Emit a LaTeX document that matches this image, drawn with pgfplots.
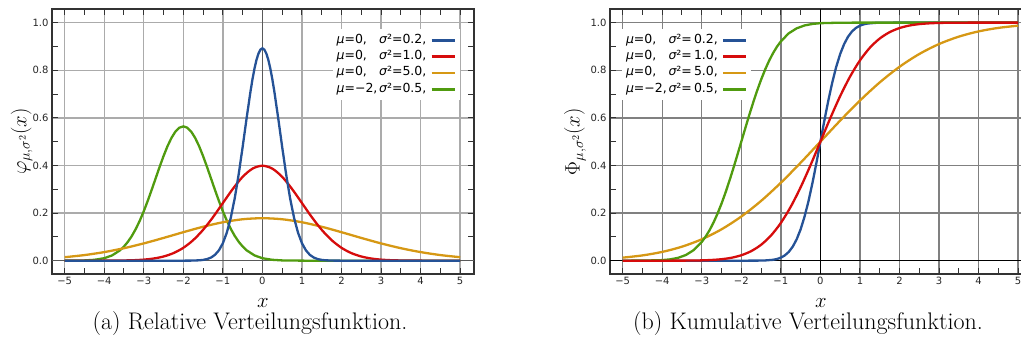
\documentclass[border=0pt]{standalone}
\usepackage{fontspec}
\setsansfont{DejaVu Sans}
\usepackage{pgfplots}
\pgfplotsset{compat=1.18}
\definecolor{cblue}{RGB}{37,82,150}
\definecolor{cred}{RGB}{214,12,12}
\definecolor{corange}{RGB}{214,152,20}
\definecolor{cgreen}{RGB}{80,155,15}
\pgfplotsset{
  common/.style={
    scale only axis, width=422pt, height=264.7pt,
    xmin=-5.32, xmax=5.35, ymin=-0.056, ymax=1.056,
    xtick={-5,-4,-3,-2,-1,0,1,2,3,4,5},
    xticklabels={−5,−4,−3,−2,−1,0,1,2,3,4,5},
    ytick={0,0.2,0.4,0.6,0.8,1},
    yticklabels={0.0,0.2,0.4,0.6,0.8,1.0},
    minor x tick num=1, minor y tick num=1,
    tick align=inside, major tick length=6pt, minor tick length=6pt,
    grid=major,
    axis line style={black!80,line width=1.8pt},
    tick style={black!80,line width=1pt},
    ticklabel style={font=\sffamily\fontsize{10}{12}\selectfont, text=black!85},
    xticklabel style={yshift=0pt},
    label style={font=\fontsize{20}{24}\selectfont},
    xlabel={$x$},
    xlabel style={at={(axis description cs:0.5,-0.108)},anchor=center,inner sep=0pt,font=\fontsize{22}{24}\selectfont},
    legend plot pos=right, legend cell align=left,
    legend style={draw=none, fill=white, font=\sffamily\fontsize{12.5}{14}\selectfont,
      row sep=4.3pt, inner xsep=4pt, inner ysep=5pt, column sep=4pt,
      nodes={inner sep=0pt, text height=9pt, text depth=3pt}},
    legend image code/.code={\draw[#1] (0pt,0pt) -- (23pt,0pt);},
    every axis plot/.append style={line width=2.3pt},
  }
}
\begin{document}
\begin{tikzpicture}
\useasboundingbox (0,0) rectangle (1021pt,-350pt);
\clip (0,0) rectangle (1021pt,-350pt);
% ---------------- left panel -----------------
\begin{axis}[common, at={(52pt,-274pt)}, anchor=south west,
  grid style={black!33,line width=1.4pt},
  ylabel={$\varphi_{\mu,\sigma^2}(x)$},
  ylabel style={at={(axis description cs:-0.072,0.5)},anchor=center},
  legend style={at={(axis description cs:0.967,0.925)},anchor=north east}]
\addlegendimage{cblue,line width=2.5pt}
\addlegendentry{\makebox[3.4em][l]{{\itshape μ}=0,}{\itshape σ}²=0.2,}
\addlegendimage{cred,line width=2.5pt}
\addlegendentry{\makebox[3.4em][l]{{\itshape μ}=0,}{\itshape σ}²=1.0,}
\addlegendimage{corange,line width=2.5pt}
\addlegendentry{\makebox[3.4em][l]{{\itshape μ}=0,}{\itshape σ}²=5.0,}
\addlegendimage{cgreen,line width=2.5pt}
\addlegendentry{\makebox[3.4em][l]{{\itshape μ}=−2,}{\itshape σ}²=0.5,}
\addplot[forget plot, black!65, line width=1.4pt] coordinates {(0,-0.056) (0,1.056)};
\addplot[forget plot, black!65, line width=1.4pt] coordinates {(-5.32,0) (5.35,0)};
% green pdf
\addplot[forget plot, cgreen] coordinates {
(-5,0.0001) (-4.5,0.0011) (-4.25,0.0036) (-4,0.0103) (-3.8,0.0221) (-3.6,0.0436) (-3.5,0.0595) (-3.4,0.0795) (-3.3,0.1041) (-3.2,0.1337) (-3.1,0.1682) (-3,0.2076) (-2.9,0.2510) (-2.8,0.2975) (-2.7,0.3456) (-2.6,0.3936) (-2.5,0.4394) (-2.4,0.4808) (-2.3,0.5156) (-2.2,0.5421) (-2.1,0.5586) (-2,0.5642) (-1.9,0.5586) (-1.8,0.5421) (-1.7,0.5156) (-1.6,0.4808) (-1.5,0.4394) (-1.4,0.3936) (-1.3,0.3456) (-1.2,0.2975) (-1.1,0.2510) (-1,0.2076) (-0.9,0.1682) (-0.8,0.1337) (-0.7,0.1041) (-0.6,0.0795) (-0.5,0.0595) (-0.4,0.0436) (-0.2,0.0221) (0,0.0103) (0.25,0.0036) (0.5,0.0011) (1,0.0001) (1.5,0) (5,0)};
% orange pdf
\addplot[forget plot, corange, smooth] coordinates {
(-5,0.0146) (-4.5,0.0235) (-4,0.0360) (-3.5,0.0524) (-3,0.0725) (-2.5,0.0955) (-2,0.1196) (-1.5,0.1425) (-1,0.1614) (-0.5,0.1740) (0,0.1784) (0.5,0.1740) (1,0.1614) (1.5,0.1425) (2,0.1196) (2.5,0.0955) (3,0.0725) (3.5,0.0524) (4,0.0360) (4.5,0.0235) (5,0.0146)};
% red pdf
\addplot[forget plot, cred, smooth] coordinates {
(-5,0) (-4.5,0.00002) (-4,0.0001) (-3.75,0.0004) (-3.5,0.0009) (-3.25,0.0020) (-3,0.0044) (-2.75,0.0091) (-2.5,0.0175) (-2.25,0.0317) (-2,0.0540) (-1.75,0.0863) (-1.5,0.1295) (-1.25,0.1826) (-1,0.2420) (-0.75,0.3011) (-0.5,0.3521) (-0.25,0.3867) (0,0.3989) (0.25,0.3867) (0.5,0.3521) (0.75,0.3011) (1,0.2420) (1.25,0.1826) (1.5,0.1295) (1.75,0.0863) (2,0.0540) (2.25,0.0317) (2.5,0.0175) (2.75,0.0091) (3,0.0044) (3.25,0.0020) (3.5,0.0009) (3.75,0.0004) (4,0.0001) (4.5,0.00002) (5,0)};
% blue pdf
\addplot[forget plot, cblue] coordinates {
(-5,0) (-2.2,0) (-2,0.00004) (-1.8,0.0003) (-1.6,0.0015) (-1.5,0.0032) (-1.4,0.0066) (-1.3,0.0130) (-1.2,0.0244) (-1.1,0.0433) (-1,0.0732) (-0.9,0.1178) (-0.8,0.1801) (-0.7,0.2621) (-0.6,0.3627) (-0.5,0.4775) (-0.4,0.5980) (-0.3,0.7124) (-0.25,0.7631) (-0.2,0.8072) (-0.15,0.8433) (-0.1,0.8701) (-0.05,0.8865) (0,0.8921) (0.05,0.8865) (0.1,0.8701) (0.15,0.8433) (0.2,0.8072) (0.25,0.7631) (0.3,0.7124) (0.4,0.5980) (0.5,0.4775) (0.6,0.3627) (0.7,0.2621) (0.8,0.1801) (0.9,0.1178) (1,0.0732) (1.1,0.0433) (1.2,0.0244) (1.3,0.0130) (1.4,0.0066) (1.5,0.0032) (1.6,0.0015) (1.8,0.0003) (2,0.00004) (2.2,0) (5,0)};
\end{axis}
% ---------------- right panel -----------------
\begin{axis}[common, at={(610pt,-274pt)}, anchor=south west,
  grid style={black!50,line width=1.4pt},
  ylabel={$\Phi_{\mu,\sigma^2}(x)$},
  ylabel style={at={(axis description cs:-0.083,0.5)},anchor=center},
  legend style={at={(axis description cs:0.028,0.925)},anchor=north west}]
\addlegendimage{cblue,line width=2.5pt}
\addlegendentry{\makebox[3.4em][l]{{\itshape μ}=0,}{\itshape σ}²=\,0.2,}
\addlegendimage{cred,line width=2.5pt}
\addlegendentry{\makebox[3.4em][l]{{\itshape μ}=0,}{\itshape σ}²=\,1.0,}
\addlegendimage{corange,line width=2.5pt}
\addlegendentry{\makebox[3.4em][l]{{\itshape μ}=0,}{\itshape σ}²=\,5.0,}
\addlegendimage{cgreen,line width=2.5pt}
\addlegendentry{\makebox[3.4em][l]{{\itshape μ}=−2,}{\itshape σ}²=\,0.5,}
\addplot[forget plot, black, line width=1.4pt] coordinates {(0,-0.056) (0,1.056)};
\addplot[forget plot, black, line width=1.4pt] coordinates {(-5.32,0) (5.35,0)};
% blue cdf
\addplot[forget plot, cblue] coordinates {
(-5,0) (-2,0) (-1.6,0.0002) (-1.4,0.0009) (-1.2,0.0036) (-1.1,0.0069) (-1,0.0127) (-0.9,0.0221) (-0.8,0.0368) (-0.7,0.0588) (-0.6,0.0899) (-0.5,0.1318) (-0.4,0.1855) (-0.3,0.2511) (-0.2,0.3274) (-0.1,0.4115) (0,0.5) (0.1,0.5885) (0.2,0.6726) (0.3,0.7489) (0.4,0.8145) (0.5,0.8682) (0.6,0.9101) (0.7,0.9412) (0.8,0.9632) (0.9,0.9779) (1,0.9873) (1.1,0.9931) (1.2,0.9964) (1.4,0.9991) (1.6,0.9998) (2,1) (5,1)};
% orange cdf
\addplot[forget plot, corange, smooth] coordinates {
(-5,0.0127) (-4.5,0.0221) (-4,0.0368) (-3.5,0.0588) (-3,0.0899) (-2.5,0.1318) (-2,0.1855) (-1.5,0.2511) (-1,0.3274) (-0.5,0.4115) (0,0.5) (0.5,0.5885) (1,0.6726) (1.5,0.7489) (2,0.8145) (2.5,0.8682) (3,0.9101) (3.5,0.9412) (4,0.9632) (4.5,0.9779) (5,0.9873)};
% green cdf
\addplot[forget plot, cgreen] coordinates {
(-5,0) (-4.5,0.0002) (-4,0.0023) (-3.8,0.0055) (-3.6,0.0118) (-3.4,0.0239) (-3.2,0.0448) (-3,0.0786) (-2.9,0.1015) (-2.8,0.1289) (-2.7,0.1611) (-2.6,0.1981) (-2.5,0.2398) (-2.4,0.2858) (-2.3,0.3357) (-2.2,0.3887) (-2.1,0.4438) (-2,0.5) (-1.9,0.5562) (-1.8,0.6113) (-1.7,0.6643) (-1.6,0.7142) (-1.5,0.7602) (-1.4,0.8019) (-1.3,0.8389) (-1.2,0.8711) (-1.1,0.8985) (-1,0.9214) (-0.8,0.9552) (-0.6,0.9761) (-0.4,0.9882) (-0.2,0.9945) (0,0.9977) (0.5,0.9998) (1,1) (5,1)};
% red cdf
\addplot[forget plot, cred, smooth] coordinates {
(-5,0) (-4.5,0) (-4,0.00003) (-3.5,0.0002) (-3.25,0.0006) (-3,0.0013) (-2.75,0.0030) (-2.5,0.0062) (-2.25,0.0122) (-2,0.0228) (-1.75,0.0401) (-1.5,0.0668) (-1.25,0.1056) (-1,0.1587) (-0.75,0.2266) (-0.5,0.3085) (-0.25,0.4013) (0,0.5) (0.25,0.5987) (0.5,0.6915) (0.75,0.7734) (1,0.8413) (1.25,0.8944) (1.5,0.9332) (1.75,0.9599) (2,0.9772) (2.25,0.9878) (2.5,0.9938) (2.75,0.9970) (3,0.9987) (3.25,0.9994) (3.5,0.9998) (4,1) (4.5,1) (5,1)};
\end{axis}
\node[font=\fontsize{24}{28}\selectfont] at (250pt,-324pt) {(a) Relative Verteilungsfunktion.};
\node[font=\fontsize{24}{28}\selectfont] at (808pt,-324pt) {(b) Kumulative Verteilungsfunktion.};
\end{tikzpicture}
\end{document}
